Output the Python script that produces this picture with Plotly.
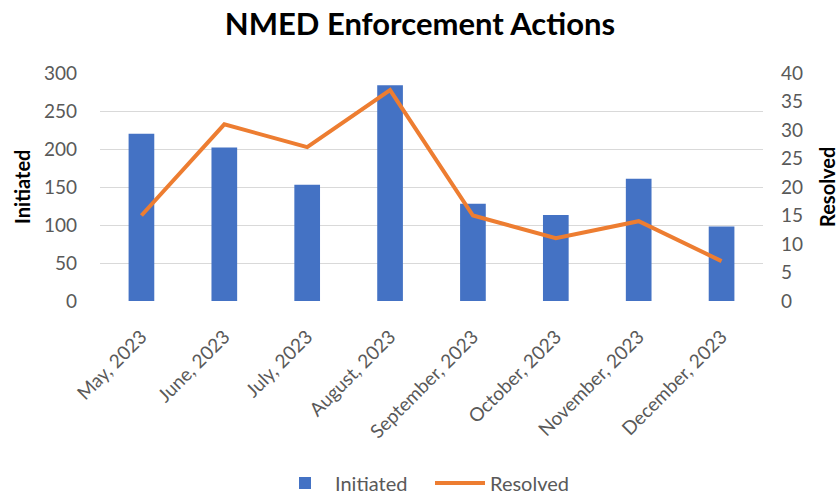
import plotly.graph_objects as go

months = ["May, 2023", "June, 2023", "July, 2023", "August, 2023",
          "September, 2023", "October, 2023", "November, 2023", "December, 2023"]
initiated = [220, 202, 153, 284, 128, 113, 161, 98]
resolved = [15, 31, 27, 37, 15, 11, 14, 7]
left_ticks = [0, 50, 100, 150, 200, 250, 300]
right_ticks = [0, 5, 10, 15, 20, 25, 30, 35, 40]

FONT = "Lato, Calibri, sans-serif"
TICK_COLOR = "#595959"
W, H = 840, 495

fig = go.Figure()
fig.add_trace(go.Bar(x=months, y=initiated, name="Initiated",
                     marker=dict(color="#4472C4", line=dict(width=0)), yaxis="y"))
fig.add_trace(go.Scatter(x=months, y=resolved, name="Resolved", mode="lines",
                         line=dict(color="#ED7D31", width=4), yaxis="y2"))

fig.update_layout(
    width=W, height=H,
    margin=dict(l=100, r=77, t=73, b=194),
    paper_bgcolor="white", plot_bgcolor="white",
    font=dict(family=FONT, size=19, color=TICK_COLOR),
    title=dict(text="<b>NMED Enforcement Actions</b>", x=0.5, xanchor="center",
               xref="container", yref="container",
               y=1 - 24 / H, yanchor="middle",
               font=dict(family=FONT, size=31, color="#000000")),
    bargap=0.69,
    showlegend=True,
    xaxis=dict(tickangle=-45, showgrid=False, showline=False, ticks="",
               ticklabelstandoff=20,
               tickfont=dict(size=19, color=TICK_COLOR)),
    yaxis=dict(range=[0, 300], tickvals=left_ticks, showgrid=True, gridcolor="#d9d9d9",
               gridwidth=1, zeroline=False, showline=False, ticks="",
               ticklabelstandoff=22, tickfont=dict(size=19, color=TICK_COLOR)),
    yaxis2=dict(range=[0, 40], tickvals=right_ticks, overlaying="y", side="right",
                showgrid=False, zeroline=False, showline=False, ticks="",
                ticklabelstandoff=17, tickfont=dict(size=19, color=TICK_COLOR)),
    legend=dict(orientation="h", x=430 / W, xanchor="center", xref="container",
                yref="container", y=12 / H, yanchor="middle",
                font=dict(size=20, color=TICK_COLOR), itemwidth=50, entrywidth=90),
    annotations=[
        dict(text="<b>Initiated</b>", xref="paper", yref="paper", x=0, y=0.5,
             xanchor="center", yanchor="middle", xshift=-78, textangle=-90,
             showarrow=False, font=dict(family=FONT, size=20, color="#000000")),
        dict(text="<b>Resolved</b>", xref="paper", yref="paper", x=1, y=0.5,
             xanchor="center", yanchor="middle", xshift=64, textangle=-90,
             showarrow=False, font=dict(family=FONT, size=20, color="#000000")),
    ],
)

fig.write_html(
    "out.html",
    config={"displayModeBar": False},
    post_script="document.body.style.margin='0';document.body.style.overflow='hidden';",
)
